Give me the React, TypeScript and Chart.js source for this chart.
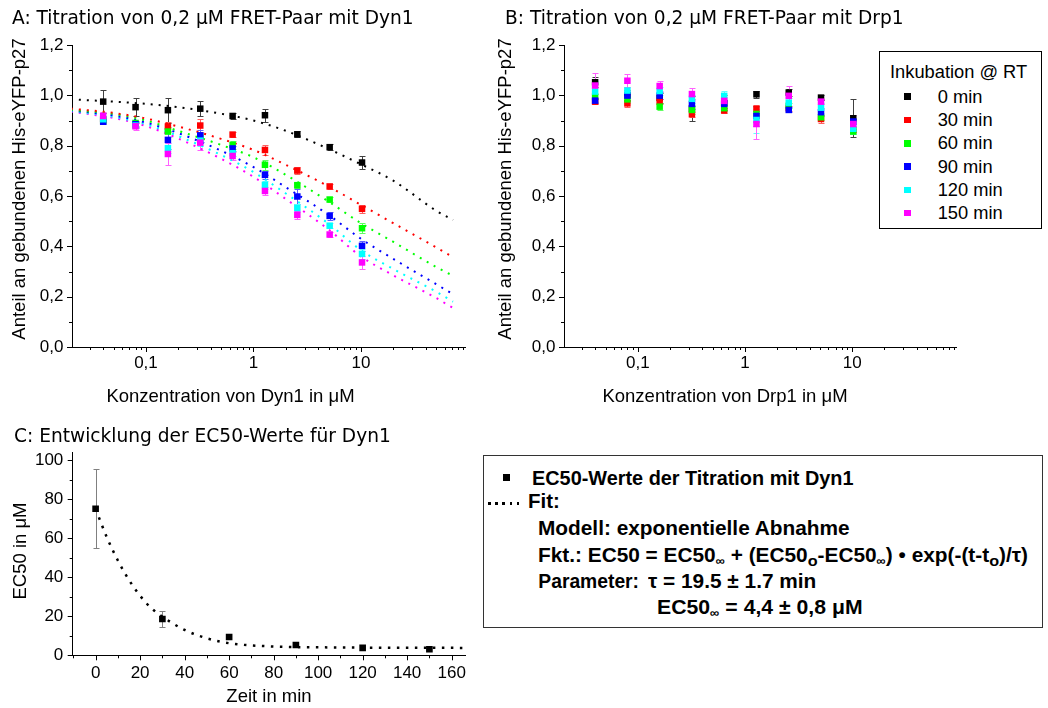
import React, { useEffect, useRef } from "react";
import { Chart, registerables } from "chart.js";

Chart.register(...registerables);

// ---------------- data ----------------
const concentrationsUM = [0.04, 0.08, 0.16, 0.32, 0.64, 1.28, 2.56, 5.12, 10.24];
const incubationLabels = ["0 min", "30 min", "60 min", "90 min", "120 min", "150 min"];
const incubationColors = ["#000000", "#ff0000", "#00ff00", "#0000ff", "#00ffff", "#ff00ff"];
const errorColors = ["#404040", "#ff6060", "#60ff60", "#6060ff", "#60ffff", "#ff60ff"];

// Panel A: Dyn1 titration
const dyn1_0min = [0.975, 0.953, 0.941, 0.947, 0.918, 0.921, 0.845, 0.794, 0.733];
const dyn1_30min = [0.905, 0.882, 0.876, 0.88, 0.844, 0.783, 0.701, 0.638, 0.549];
const dyn1_60min = [0.9, 0.89, 0.856, 0.835, 0.803, 0.724, 0.643, 0.586, 0.472];
const dyn1_90min = [0.895, 0.885, 0.823, 0.841, 0.789, 0.684, 0.598, 0.521, 0.402];
const dyn1_120min = [0.905, 0.88, 0.79, 0.82, 0.77, 0.644, 0.552, 0.482, 0.37];
const dyn1_150min = [0.918, 0.877, 0.767, 0.812, 0.759, 0.62, 0.525, 0.447, 0.336];

const dyn1Err_0min = [0.045, 0.035, 0.05, 0.03, 0.012, 0.025, 0.012, 0.012, 0.025];
const dyn1Err_30min = [0.01, 0.01, 0.02, 0.025, 0.01, 0.02, 0.015, 0.01, 0.015];
const dyn1Err_60min = [0.01, 0.01, 0.02, 0.015, 0.015, 0.02, 0.01, 0.01, 0.02];
const dyn1Err_90min = [0.01, 0.01, 0.035, 0.02, 0.01, 0.015, 0.03, 0.015, 0.02];
const dyn1Err_120min = [0.01, 0.01, 0.02, 0.02, 0.01, 0.015, 0.015, 0.01, 0.02];
const dyn1Err_150min = [0.015, 0.015, 0.045, 0.03, 0.015, 0.015, 0.015, 0.01, 0.025];

// fitted curves of panel A
const fitConcUM = [0.02, 0.05, 0.1, 0.2, 0.5, 1, 2, 5, 10, 20, 50, 72];
const fit_0min = [0.984, 0.975, 0.966, 0.953, 0.927, 0.9, 0.859, 0.787, 0.726, 0.661, 0.542, 0.505];
const fit_30min = [0.947, 0.93, 0.908, 0.876, 0.827, 0.783, 0.724, 0.638, 0.565, 0.492, 0.396, 0.357];
const fit_60min = [0.942, 0.926, 0.9, 0.859, 0.803, 0.754, 0.684, 0.578, 0.492, 0.418, 0.318, 0.283];
const fit_90min = [0.94, 0.92, 0.892, 0.85, 0.78, 0.715, 0.635, 0.525, 0.43, 0.35, 0.25, 0.21];
const fit_120min = [0.938, 0.915, 0.885, 0.838, 0.763, 0.695, 0.61, 0.49, 0.385, 0.31, 0.22, 0.18];
const fit_150min = [0.935, 0.91, 0.878, 0.828, 0.748, 0.676, 0.588, 0.467, 0.36, 0.285, 0.195, 0.155];

// Panel B: Drp1 titration
const drp1_0min = [1.052, 1.0, 0.99, 0.948, 0.97, 1.004, 1.011, 0.991, 0.909];
const drp1_30min = [0.975, 0.968, 0.975, 0.925, 0.94, 0.946, 0.949, 0.906, 0.863];
const drp1_60min = [0.995, 0.984, 0.955, 0.942, 0.949, 0.926, 0.958, 0.913, 0.856];
const drp1_90min = [0.979, 0.999, 0.999, 0.966, 0.966, 0.918, 0.942, 0.933, 0.896];
const drp1_120min = [1.015, 1.019, 1.017, 0.986, 0.998, 0.902, 0.971, 0.951, 0.867];
const drp1_150min = [1.039, 1.058, 1.037, 1.005, 0.978, 0.886, 0.998, 0.975, 0.886];

const drp1Err_0min = [0.02, 0.02, 0.02, 0.05, 0.03, 0.015, 0.015, 0.01, 0.075];
const drp1Err_30min = [0.01, 0.015, 0.01, 0.01, 0.01, 0.015, 0.01, 0.015, 0.01];
const drp1Err_60min = [0.01, 0.015, 0.015, 0.015, 0.01, 0.03, 0.01, 0.01, 0.01];
const drp1Err_90min = [0.01, 0.02, 0.015, 0.02, 0.015, 0.04, 0.01, 0.015, 0.01];
const drp1Err_120min = [0.04, 0.015, 0.015, 0.015, 0.02, 0.05, 0.02, 0.02, 0.02];
const drp1Err_150min = [0.05, 0.025, 0.02, 0.025, 0.015, 0.06, 0.04, 0.01, 0.035];

// Panel C: EC50 development
const ec50TimesMin = [0, 30, 60, 90, 120, 150];
const ec50ValuesUM = [75.1, 18.6, 9.4, 5.3, 3.8, 3.1];
const ec50ErrorsUM = [20.2, 4.0, 0, 0, 0, 0];
const ec50FitTimesMin = [0, 5, 10, 15, 20, 25, 30, 40, 50, 60, 80, 100, 130, 165];
const ec50FitValuesUM = [75, 60.6, 48.6, 38.6, 30.5, 24.2, 19.8, 13.0, 8.7, 6.2, 4.5, 4.1, 3.9, 3.8];

// ticks
const titrationYTicks = [0, 0.1, 0.2, 0.3, 0.4, 0.5, 0.6, 0.7, 0.8, 0.9, 1.0, 1.1, 1.2];
const concMajorTicks = [0.1, 1, 10];
const concTicks = [0.03, 0.04, 0.05, 0.06, 0.07, 0.08, 0.09, 0.1, 0.2, 0.3, 0.4, 0.5, 0.6, 0.7, 0.8, 0.9,
  1, 2, 3, 4, 5, 6, 7, 8, 9, 10, 20, 30, 40, 50, 60, 70, 80, 90];
const timeTicks = [-10, 0, 10, 20, 30, 40, 50, 60, 70, 80, 90, 100, 110, 120, 130, 140, 150, 160];
const ec50Ticks = [0, 10, 20, 30, 40, 50, 60, 70, 80, 90, 100];

// ---------------- plugins ----------------
const errorBarPlugin = {
  id: "errorBars",
  beforeDatasetsDraw(chart: any) {
    const ctx = chart.ctx;
    chart.data.datasets.forEach((ds: any, i: number) => {
      if (!ds.errors) return;
      const meta = chart.getDatasetMeta(i);
      const xs = chart.scales[meta.xAxisID];
      const ys = chart.scales[meta.yAxisID];
      ctx.save();
      ctx.strokeStyle = ds.errorColor || ds.borderColor;
      ctx.lineWidth = 1;
      const cap = ds.capHalf || 3;
      ds.data.forEach((pt: any, j: number) => {
        const e = ds.errors[j];
        if (!e) return;
        const x = Math.round(xs.getPixelForValue(pt.x)) + 0.5;
        const y1 = Math.round(ys.getPixelForValue(pt.y + e)) + 0.5;
        const y2 = Math.round(ys.getPixelForValue(pt.y - e)) + 0.5;
        ctx.beginPath();
        ctx.moveTo(x, y1);
        ctx.lineTo(x, y2);
        ctx.moveTo(x - cap, y1);
        ctx.lineTo(x + cap, y1);
        ctx.moveTo(x - cap, y2);
        ctx.lineTo(x + cap, y2);
        ctx.stroke();
      });
      ctx.restore();
    });
  },
};

const axisTicksPlugin = {
  id: "axisTicks",
  afterDraw(chart: any) {
    const ctx = chart.ctx;
    ctx.save();
    ctx.strokeStyle = "#000";
    ctx.lineWidth = 1;
    Object.values(chart.scales).forEach((scale: any) => {
      scale.ticks.forEach((t: any) => {
        if (t.value < scale.min - 1e-9 || t.value > scale.max + 1e-9) return;
        const major = t.label !== "" && t.label !== undefined;
        const len = major ? 5 : 3;
        const p = scale.getPixelForValue(t.value);
        ctx.beginPath();
        if (scale.isHorizontal()) {
          const px = Math.round(p) + 0.5;
          ctx.moveTo(px, scale.top);
          ctx.lineTo(px, scale.top + len);
        } else {
          const py = Math.round(p) + 0.5;
          ctx.moveTo(scale.right, py);
          ctx.lineTo(scale.right - len, py);
        }
        ctx.stroke();
      });
    });
    ctx.restore();
  },
};

// ---------------- configs ----------------
const SANS = "'Liberation Sans', Arial, sans-serif";
const tickFont = { family: SANS, size: 17 };

function titrationConfig(series: number[][], errors: number[][], fits: number[][] | null, yWidth: number, rightPad: number) {
  const datasets: any[] = [];
  series.forEach((vals, i) => {
    datasets.push({
      label: incubationLabels[i],
      data: concentrationsUM.map((x, j) => ({ x, y: vals[j] })),
      errors: errors[i],
      errorColor: errorColors[i],
      backgroundColor: incubationColors[i],
      borderColor: incubationColors[i],
      borderWidth: 0,
      pointStyle: "rect",
      pointRadius: 4.6,
      pointHoverRadius: 4.6,
      showLine: false,
      order: series.length - 1 - i,
    });
  });
  if (fits) {
    fits.forEach((vals, i) => {
      datasets.push({
        label: "fit " + incubationLabels[i],
        data: fitConcUM.map((x, j) => ({ x, y: vals[j] })),
        showLine: true,
        borderColor: incubationColors[i],
        borderWidth: 2,
        borderDash: [2, 6],
        borderCapStyle: "butt",
        pointRadius: 0,
        cubicInterpolationMode: "monotone",
        fill: false,
        order: 20 + i,
      });
    });
  }
  return {
    type: "scatter",
    data: { datasets },
    plugins: [errorBarPlugin, axisTicksPlugin],
    options: {
      responsive: false,
      animation: false,
      events: [],
      layout: { padding: { left: 0, top: 45, right: rightPad, bottom: 0 } },
      plugins: { legend: { display: false }, tooltip: { enabled: false }, title: { display: false } },
      scales: {
        x: {
          type: "logarithmic",
          min: 0.0205,
          max: 93,
          afterFit: (s: any) => { s.height = 63; },
          afterBuildTicks: (s: any) => { s.ticks = concTicks.map((v) => ({ value: v })); },
          ticks: {
            autoSkip: false,
            maxRotation: 0,
            color: "#000",
            font: tickFont,
            padding: 6.5,
            callback: (v: any) => (concMajorTicks.includes(Number(v)) ? (Number(v) === 0.1 ? "0,1" : String(v)) : ""),
          },
          grid: { display: false, drawTicks: false },
          border: { display: true, color: "#000", width: 1 },
        },
        y: {
          type: "linear",
          min: 0,
          max: 1.2,
          afterFit: (s: any) => { s.width = yWidth; },
          afterBuildTicks: (s: any) => { s.ticks = titrationYTicks.map((v) => ({ value: v })); },
          ticks: {
            autoSkip: false,
            color: "#000",
            font: tickFont,
            padding: 8.5,
            callback: (v: any) => (Math.round(Number(v) * 10) % 2 === 0 ? Number(v).toFixed(1).replace(".", ",") : ""),
          },
          grid: { display: false, drawTicks: false },
          border: { display: true, color: "#000", width: 1 },
        },
      },
    },
  } as any;
}

function ec50Config() {
  return {
    type: "scatter",
    data: {
      datasets: [
        {
          label: "EC50-Werte der Titration mit Dyn1",
          data: ec50TimesMin.map((x, j) => ({ x, y: ec50ValuesUM[j] })),
          errors: ec50ErrorsUM,
          errorColor: "#808080",
          capHalf: 3,
          backgroundColor: "#000",
          borderColor: "#000",
          borderWidth: 0,
          pointStyle: "rect",
          pointRadius: 4.7,
          showLine: false,
          order: 0,
        },
        {
          label: "Fit",
          data: ec50FitTimesMin.map((x, j) => ({ x, y: ec50FitValuesUM[j] })),
          showLine: true,
          borderColor: "#000",
          borderWidth: 2.5,
          borderDash: [2.5, 6.5],
          borderCapStyle: "butt",
          pointRadius: 0,
          cubicInterpolationMode: "monotone",
          fill: false,
          order: 1,
        },
      ],
    },
    plugins: [errorBarPlugin, axisTicksPlugin],
    options: {
      responsive: false,
      animation: false,
      events: [],
      layout: { padding: { left: 0, top: 42, right: 15, bottom: 0 } },
      plugins: { legend: { display: false }, tooltip: { enabled: false } },
      scales: {
        x: {
          type: "linear",
          min: -10.3,
          max: 166,
          afterFit: (s: any) => { s.height = 52.7; },
          afterBuildTicks: (s: any) => { s.ticks = timeTicks.map((v) => ({ value: v })); },
          ticks: {
            autoSkip: false,
            maxRotation: 0,
            color: "#000",
            font: tickFont,
            padding: 7.8,
            callback: (v: any) => (Number(v) >= 0 && Number(v) % 20 === 0 ? String(v) : ""),
          },
          grid: { display: false, drawTicks: false },
          border: { display: true, color: "#000", width: 1 },
        },
        y: {
          type: "linear",
          min: 0,
          max: 104.2,
          afterFit: (s: any) => { s.width = 72.7; },
          afterBuildTicks: (s: any) => { s.ticks = ec50Ticks.map((v) => ({ value: v })); },
          ticks: {
            autoSkip: false,
            color: "#000",
            font: tickFont,
            padding: 9.4,
            callback: (v: any) => (Number(v) % 20 === 0 ? String(v) : ""),
          },
          grid: { display: false, drawTicks: false },
          border: { display: true, color: "#000", width: 1 },
        },
      },
    },
  } as any;
}

// ---------------- overlay text helpers ----------------
const DEJAVU = "'DejaVu Sans', sans-serif";

function Txt(props: { x: number; y: number; size: number; family?: string; weight?: number; center?: boolean; sx?: number; children: any }) {
  let transform: string | undefined = undefined;
  if (props.center) transform = "translateX(-50%)";
  if (props.sx) transform = "scaleX(" + props.sx + ")";
  return (
    <div
      style={{
        position: "absolute",
        left: props.x,
        top: props.y,
        fontFamily: props.family || SANS,
        fontSize: props.size,
        fontWeight: props.weight || 400,
        lineHeight: 1,
        whiteSpace: "nowrap",
        color: "#000",
        transform,
        transformOrigin: "left top",
      }}
    >
      {props.children}
    </div>
  );
}

function VTxt(props: { cx: number; cy: number; size: number; children: any }) {
  return (
    <div
      style={{
        position: "absolute",
        left: props.cx,
        top: props.cy,
        fontFamily: SANS,
        fontSize: props.size,
        lineHeight: 1,
        whiteSpace: "nowrap",
        color: "#000",
        transform: "translate(-50%,-50%) rotate(-90deg)",
      }}
    >
      {props.children}
    </div>
  );
}

const subInf: any = { fontSize: 12, verticalAlign: "-3px", lineHeight: 0 };
const subO: any = { fontSize: 15, verticalAlign: "-4px", lineHeight: 0 };

export default function App() {
  const refA = useRef<HTMLCanvasElement>(null);
  const refB = useRef<HTMLCanvasElement>(null);
  const refC = useRef<HTMLCanvasElement>(null);

  useEffect(() => {
    const charts: Chart[] = [];
    if (refA.current) {
      charts.push(
        new Chart(
          refA.current,
          titrationConfig(
            [dyn1_0min, dyn1_30min, dyn1_60min, dyn1_90min, dyn1_120min, dyn1_150min],
            [dyn1Err_0min, dyn1Err_30min, dyn1Err_60min, dyn1Err_90min, dyn1Err_120min, dyn1Err_150min],
            [fit_0min, fit_30min, fit_60min, fit_90min, fit_120min, fit_150min],
            72,
            15
          )
        )
      );
    }
    if (refB.current) {
      charts.push(
        new Chart(
          refB.current,
          titrationConfig(
            [drp1_0min, drp1_30min, drp1_60min, drp1_90min, drp1_120min, drp1_150min],
            [drp1Err_0min, drp1Err_30min, drp1Err_60min, drp1Err_90min, drp1Err_120min, drp1Err_150min],
            null,
            74,
            92
          )
        )
      );
    }
    if (refC.current) charts.push(new Chart(refC.current, ec50Config()));
    return () => charts.forEach((c) => c.destroy());
  }, []);

  const legendRowBase = 103.3;
  const legendRowStep = 23.3;

  return (
    <div style={{ position: "fixed", left: 0, top: 0, width: 1048, height: 708, background: "#fff", overflow: "hidden" }}>
      <canvas ref={refA} width={480} height={410} style={{ position: "absolute", left: 0, top: 0 }} />
      <canvas ref={refB} width={558} height={410} style={{ position: "absolute", left: 490, top: 0 }} />
      <canvas ref={refC} width={480} height={298} style={{ position: "absolute", left: 0, top: 410 }} />

      {/* panel titles */}
      <Txt x={12} y={8.6} size={18.6} family={DEJAVU}>A: Titration von 0,2 μM FRET-Paar mit Dyn1</Txt>
      <Txt x={505} y={8.6} size={18.6} family={DEJAVU}>B: Titration von 0,2 μM FRET-Paar mit Drp1</Txt>
      <Txt x={14} y={426.6} size={18.6} family={DEJAVU}>C: Entwicklung der EC50-Werte für Dyn1</Txt>

      {/* axis titles */}
      <VTxt cx={18.6} cy={189} size={18.5}>Anteil an gebundenen His-eYFP-p27</VTxt>
      <VTxt cx={504.6} cy={189} size={18.5}>Anteil an gebundenen His-eYFP-p27</VTxt>
      <Txt x={230.5} y={387.3} size={18.5} center>Konzentration von Dyn1 in μM</Txt>
      <Txt x={725} y={387.3} size={18.5} center>Konzentration von Drp1 in μM</Txt>
      <VTxt cx={20.3} cy={551} size={18.5}>EC50 in μM</VTxt>
      <Txt x={269} y={687.3} size={18.5} center>Zeit in min</Txt>

      {/* legend B */}
      <div
        style={{
          position: "absolute",
          left: 879,
          top: 51,
          width: 163,
          height: 178,
          border: "1px solid #000",
          boxSizing: "border-box",
          background: "#fff",
        }}
      />
      <Txt x={890} y={62.8} size={18.3}>Inkubation @ RT</Txt>
      {incubationLabels.map((lab, i) => {
        const base = legendRowBase + i * legendRowStep;
        return (
          <React.Fragment key={lab}>
            <div
              style={{
                position: "absolute",
                left: 907.7 - 3.25,
                top: base - 6.6 - 3.25,
                width: 6.5,
                height: 6.5,
                background: incubationColors[i],
              }}
            />
            <Txt x={937.7} y={base - 15.5} size={18.3}>{lab}</Txt>
          </React.Fragment>
        );
      })}

      {/* legend C */}
      <div
        style={{
          position: "absolute",
          left: 483,
          top: 455,
          width: 560,
          height: 173,
          border: "1px solid #333",
          boxSizing: "border-box",
          background: "#fff",
        }}
      />
      <div style={{ position: "absolute", left: 503.2, top: 474, width: 7, height: 7, background: "#000" }} />
      <Txt x={531.7} y={468.6} size={19.3} weight={700} sx={1.03}>EC50-Werte der Titration mit Dyn1</Txt>
      <div
        style={{
          position: "absolute",
          left: 488,
          top: 502,
          width: 36,
          height: 2.5,
          backgroundImage: "repeating-linear-gradient(to right, #000 0px, #000 2.5px, transparent 2.5px, transparent 7.2px)",
        }}
      />
      <Txt x={528.3} y={492} size={19.3} weight={700} sx={1.06}>Fit:</Txt>
      <Txt x={538.3} y={518.7} size={19.3} weight={700} sx={1.08}>Modell: exponentielle Abnahme</Txt>
      <Txt x={538.3} y={545.7} size={19.3} weight={700} sx={1.08}>
        Fkt.: EC50 = EC50<span style={subInf}>∞</span> + (EC50<span style={subO}>o</span>-EC50<span style={subInf}>∞</span>) • exp(-(t-t<span style={subO}>o</span>)/τ)
      </Txt>
      <Txt x={538.3} y={571.7} size={19.3} weight={700} sx={1.0}>Parameter:</Txt>
      <Txt x={648} y={571.7} size={19.3} weight={700} sx={1.08}>τ = 19.5 ± 1.7 min</Txt>
      <Txt x={657} y={597.7} size={19.3} weight={700} sx={1.1}>
        EC50<span style={subInf}>∞</span> = 4,4 ± 0,8 μM
      </Txt>
    </div>
  );
}
